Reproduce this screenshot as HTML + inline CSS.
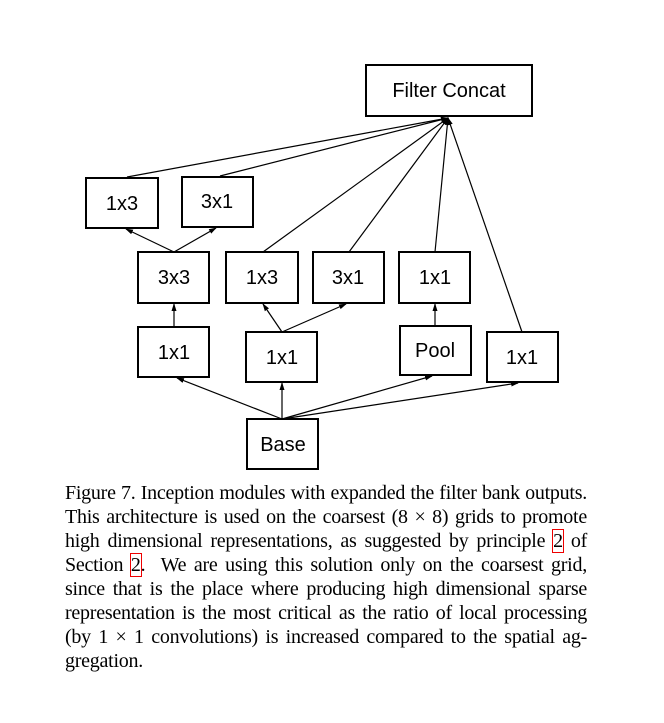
<!DOCTYPE html>
<html><head><meta charset="utf-8"><style>
body{margin:0;background:#fff;width:664px;height:723px;overflow:hidden;position:relative}
svg{position:absolute;left:0;top:0}
.cap{position:absolute;left:65px;top:481px;width:522px;font-family:"Liberation Serif",serif;font-size:20px;letter-spacing:-0.25px;line-height:24px;color:#000}
.cap div{text-align:justify;text-align-last:justify;white-space:nowrap;height:24px}
.cap div.l{text-align-last:left}
.ref{outline:1.5px solid #e00;outline-offset:0}
</style></head><body>
<svg width="664" height="723" font-family="Liberation Sans, sans-serif" font-size="20" text-anchor="middle">
<defs><marker id="a" markerWidth="8" markerHeight="8" refX="7" refY="4" orient="auto" markerUnits="userSpaceOnUse"><path d="M0,1.5 L8,4 L0,6.5z" fill="#000"/></marker></defs>
<g fill="#fff" stroke="#000" stroke-width="2">
<rect x="366" y="65" width="166" height="51"/>
<rect x="86" y="178" width="72" height="50"/>
<rect x="182" y="177" width="71" height="50"/>
<rect x="138" y="252" width="71" height="51"/>
<rect x="226" y="252" width="72" height="51"/>
<rect x="313" y="252" width="71" height="51"/>
<rect x="399" y="252" width="71" height="51"/>
<rect x="138" y="327" width="71" height="50"/>
<rect x="246" y="332" width="71" height="50"/>
<rect x="400" y="326" width="71" height="49"/>
<rect x="487" y="332" width="71" height="50"/>
<rect x="247" y="419" width="71" height="50"/>
</g>
<g stroke="#000" stroke-width="1.2" marker-end="url(#a)">
<line x1="127" y1="177" x2="448" y2="118"/>
<line x1="220" y1="176" x2="448" y2="118"/>
<line x1="263" y1="252" x2="448" y2="118"/>
<line x1="349" y1="252" x2="448" y2="118"/>
<line x1="435" y1="252" x2="448" y2="118"/>
<line x1="522" y1="332" x2="448" y2="118"/>
<line x1="174" y1="252" x2="126" y2="229"/>
<line x1="174" y1="252" x2="216" y2="228"/>
<line x1="174" y1="327" x2="174" y2="304"/>
<line x1="282" y1="332" x2="263" y2="304"/>
<line x1="282" y1="332" x2="346" y2="304"/>
<line x1="435" y1="326" x2="435" y2="304"/>
<line x1="282" y1="419" x2="177" y2="378"/>
<line x1="282" y1="419" x2="282" y2="383"/>
<line x1="282" y1="419" x2="432" y2="376"/>
<line x1="282" y1="419" x2="518" y2="383"/>
</g>
<g fill="#000">
<text x="449" y="97">Filter Concat</text>
<text x="122" y="210">1x3</text>
<text x="217" y="208">3x1</text>
<text x="174" y="284">3x3</text>
<text x="262" y="284">1x3</text>
<text x="348" y="284">3x1</text>
<text x="435" y="284">1x1</text>
<text x="174" y="359">1x1</text>
<text x="282" y="364">1x1</text>
<text x="435" y="357">Pool</text>
<text x="522" y="364">1x1</text>
<text x="283" y="451">Base</text>
</g>
</svg>
<div class="cap">
<div>Figure 7. Inception modules with expanded the filter bank outputs.</div>
<div>This architecture is used on the coarsest (8 × 8) grids to promote</div>
<div>high dimensional representations, as suggested by principle <span class="ref">2</span> of</div>
<div>Section <span class="ref">2</span>. &nbsp;We are using this solution only on the coarsest grid,</div>
<div>since that is the place where producing high dimensional sparse</div>
<div>representation is the most critical as the ratio of local processing</div>
<div>(by 1 × 1 convolutions) is increased compared to the spatial ag-</div>
<div class="l">gregation.</div>
</div>
</body></html>
